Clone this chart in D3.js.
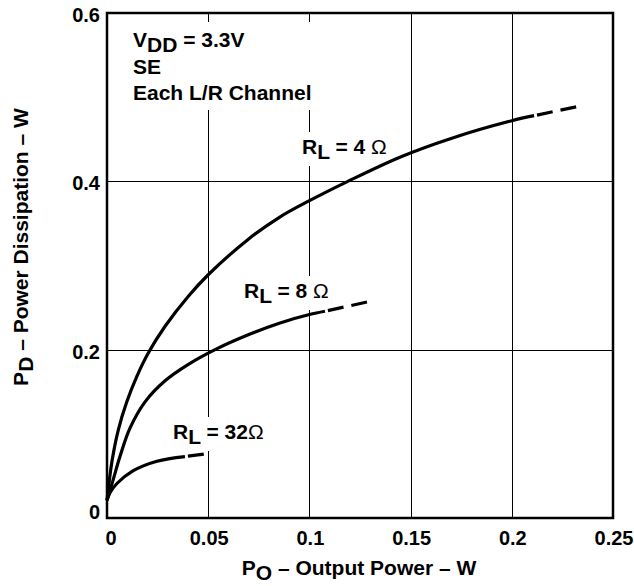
<!DOCTYPE html>
<html>
<head>
<meta charset="utf-8">
<script src="https://cdn.jsdelivr.net/npm/d3@7"></script>
<style>
  html, body { margin: 0; padding: 0; background: #fff; }
  svg { display: block; }
  text { font-family: "Liberation Sans", Arial, Helvetica, sans-serif; font-weight: bold; fill: #000; }
</style>
</head>
<body>
<svg id="chart" width="634" height="586"></svg>
<script>
// Output power (W) and power dissipation (W) for each load
const po4  = [0, 0.0025, 0.0056, 0.0097, 0.0147, 0.0204, 0.0287, 0.0402, 0.05, 0.0697, 0.085, 0.1, 0.119, 0.145, 0.17, 0.2, 0.211, 0.2327];
const pd4  = [0.021, 0.068, 0.1048, 0.1375, 0.168, 0.196, 0.2278, 0.2635, 0.289, 0.331, 0.357, 0.377, 0.4, 0.429, 0.451, 0.472, 0.478, 0.489];
const po8  = [0, 0.003, 0.0064, 0.0114, 0.0188, 0.0287, 0.0402, 0.0534, 0.0707, 0.0855, 0.1, 0.1077, 0.130];
const pd8  = [0.021, 0.045, 0.073, 0.107, 0.138, 0.163, 0.1825, 0.2, 0.2185, 0.2317, 0.2417, 0.2456, 0.2575];
const po32 = [0, 0.0015, 0.0049, 0.0128, 0.0247, 0.0385, 0.0484];
const pd32 = [0.021, 0.030, 0.041, 0.056, 0.0675, 0.073, 0.076];
// where each curve switches from solid to dashed
const dashFrom = [0.211, 0.1077, 0.0385];
const seriesNames = ["4 Ω", "8 Ω", "32Ω"];

const xTicks = [0, 0.05, 0.1, 0.15, 0.2, 0.25];
const xTickLabels = ["0", "0.05", "0.1", "0.15", "0.2", "0.25"];
const yTicks = [0, 0.2, 0.4, 0.6];
const yTickLabels = ["0", "0.2", "0.4", "0.6"];

const margin = { left: 107, top: 13, right: 21, bottom: 68 };
const svg = d3.select("#chart");
const W = 634, H = 586;
const iw = W - margin.left - margin.right;
const ih = H - margin.top - margin.bottom;

const x = d3.scaleLinear().domain([0, 0.25]).range([margin.left, margin.left + iw]);
const y = d3.scaleLinear().domain([0, 0.6]).range([margin.top + ih, margin.top]);

// grid
const grid = svg.append("g").attr("stroke", "#000").attr("stroke-width", 1);
grid.selectAll("line.v").data(xTicks.slice(1, -1)).join("line")
  .attr("x1", d => Math.round(x(d)) + 0.5).attr("x2", d => Math.round(x(d)) + 0.5)
  .attr("y1", y(0.6)).attr("y2", y(0));
grid.selectAll("line.h").data(yTicks.slice(1, -1)).join("line")
  .attr("y1", d => Math.round(y(d)) + 0.5).attr("y2", d => Math.round(y(d)) + 0.5)
  .attr("x1", x(0)).attr("x2", x(0.25));

// labels sit above the grid, with white boxes cutting the grid lines
const labels = svg.append("g");

function boxedText(g, lines, pad) {
  const grp = g.append("g");
  const rect = grp.append("rect").attr("fill", "#fff");
  const t = grp.append("g");
  lines.forEach(l => {
    const tx = t.append("text").attr("x", l.x).attr("y", l.y).attr("font-size", l.size);
    l.parts.forEach(p => {
      const ts = tx.append("tspan").text(p.text);
      if (p.dy) ts.attr("dy", p.dy);
      if (p.weight) ts.style("font-weight", p.weight);
    });
  });
  const bb = t.node().getBBox();
  rect.attr("x", bb.x - pad[0]).attr("y", bb.y - pad[1])
      .attr("width", bb.width + 2 * pad[0]).attr("height", bb.height + 2 * pad[1]);
}

boxedText(labels, [
  { x: 133, y: 47, size: 21, parts: [{ text: "V" }, { text: "DD", dy: 5 }, { text: " = 3.3V", dy: -5 }] },
  { x: 133, y: 74, size: 21, parts: [{ text: "SE" }] },
  { x: 133, y: 100, size: 21, parts: [{ text: "Each L/R Channel" }] }
], [4, 6]);

const labelPos = [[302, 154], [244, 298], [173, 439]];
seriesNames.forEach((n, i) => {
  boxedText(labels, [
    { x: labelPos[i][0], y: labelPos[i][1], size: 21,
      parts: [{ text: "R" }, { text: "L", dy: 5 }, { text: " = ", dy: -5 },
              { text: n.replace("Ω", "") }, { text: "Ω", weight: "normal" }] }
  ], [3, 3]);
});

// curves: solid part, then a dashed tail
const line = d3.line().x(d => x(d[0])).y(d => y(d[1])).curve(d3.curveCatmullRom.alpha(0.5));
const series = [[po4, pd4], [po8, pd8], [po32, pd32]];
const curves = svg.append("g").attr("fill", "none").attr("stroke", "#000")
  .attr("stroke-width", 3.2).attr("stroke-linecap", "butt");
series.forEach(([xs, ys], i) => {
  const pts = xs.map((v, k) => [v, ys[k]]);
  const solid = pts.filter(p => p[0] <= dashFrom[i]);
  const dashed = pts.filter(p => p[0] >= dashFrom[i]);
  curves.append("path").attr("d", line(solid));
  curves.append("path").attr("d", line(dashed)).attr("stroke-dasharray", "0,3,16,5");
});

// frame
svg.append("rect")
  .attr("x", x(0)).attr("y", y(0.6))
  .attr("width", x(0.25) - x(0)).attr("height", y(0) - y(0.6))
  .attr("fill", "none").attr("stroke", "#000").attr("stroke-width", 2.5);

// tick labels
svg.append("g").selectAll("text").data(xTicks).join("text")
  .attr("x", (d, i) => x(d) + (i === 0 ? 4 : 1)).attr("y", 545)
  .attr("text-anchor", "middle").attr("font-size", 20)
  .text((d, i) => xTickLabels[i]);
svg.append("g").selectAll("text").data(yTicks).join("text")
  .attr("x", 100).attr("y", d => y(d) + (d === 0 ? 1 : 9))
  .attr("text-anchor", "end").attr("font-size", 20)
  .text((d, i) => yTickLabels[i]);

// axis titles
const xt = svg.append("text").attr("x", 359).attr("y", 575)
  .attr("text-anchor", "middle").attr("font-size", 21);
xt.append("tspan").text("P");
xt.append("tspan").text("O").attr("dy", 5);
xt.append("tspan").text(" – Output Power – W").attr("dy", -5);

const yt = svg.append("text")
  .attr("transform", "translate(28,247) rotate(-90)")
  .attr("text-anchor", "middle").attr("font-size", 21);
yt.append("tspan").text("P");
yt.append("tspan").text("D").attr("dy", 5);
yt.append("tspan").text(" – Power Dissipation – W").attr("dy", -5);
</script>
</body>
</html>
